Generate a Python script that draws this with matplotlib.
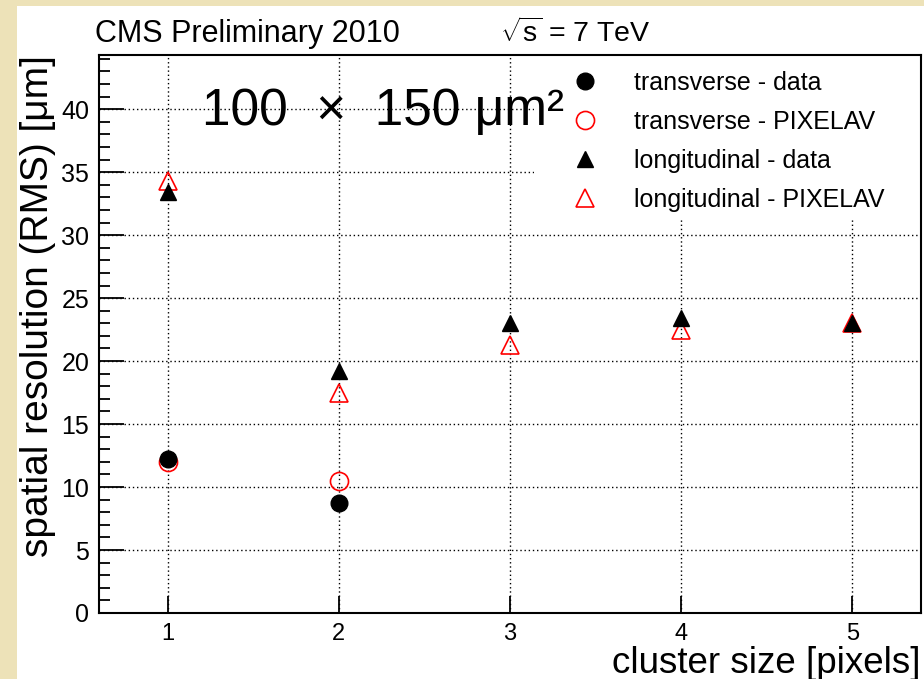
import numpy as np
import matplotlib
matplotlib.use("Agg")
import matplotlib.pyplot as plt
from matplotlib.patches import Rectangle

plt.rcParams['font.family'] = ['Liberation Sans', 'DejaVu Sans']
plt.rcParams['mathtext.fontset'] = 'custom'
plt.rcParams['mathtext.rm'] = 'Liberation Sans'
plt.rcParams['mathtext.it'] = 'Liberation Sans'

# ==============================
#  Data
# ==============================
cluster_size = [1, 2, 3, 4, 5]
trans_x = [1, 2]
trans_data = [12.2, 8.7]
trans_pixelav = [12.0, 10.5]
long_data = [33.4, 19.2, 23.0, 23.4, 23.0]
long_pixelav = [34.3, 17.5, 21.3, 22.5, 23.0]

# ==============================
#  Figure
# ==============================
fig = plt.figure(figsize=(9.24, 6.79), dpi=100, facecolor='#ede2b8')
fig.patches.append(Rectangle((17 / 924, 0), 1, (679 - 6) / 679, transform=fig.transFigure,
                             facecolor='white', edgecolor='none', zorder=0))

ax = fig.add_axes([99 / 924, 66 / 679, 822 / 924, 558 / 679])
ax.set_zorder(1)
ax.set_xlim(0.6, 5.4)
ax.set_ylim(0, 44.3)

ax.grid(True, color='black', linestyle=(0, (1, 2)), linewidth=1)
ax.set_xticks(cluster_size)
ax.set_yticks(np.arange(0, 45, 5))
ax.set_yticks(np.arange(0, 45, 1), minor=True)
ax.tick_params(axis='y', which='major', direction='in', length=18, width=1.3, labelsize=18, pad=7)
ax.tick_params(axis='y', which='minor', direction='in', length=8, width=1.3)
ax.tick_params(axis='x', which='major', direction='in', length=12, width=1.3, labelsize=17, pad=7)
for sp in ax.spines.values():
    sp.set_linewidth(1.5)

# white box behind the legend (hides the grid, like the original)
ax.add_patch(Rectangle((0.529, 0.708), 0.471, 0.292, transform=ax.transAxes,
                       facecolor='white', edgecolor='none', zorder=2))

ax.plot(cluster_size, long_pixelav, linestyle='none', marker='^', markersize=13,
        markerfacecolor='none', markeredgecolor='red', markeredgewidth=1.2, zorder=3,
        label='longitudinal - PIXELAV')
ax.plot(trans_x, trans_pixelav, linestyle='none', marker='o', markersize=13,
        markerfacecolor='none', markeredgecolor='red', markeredgewidth=1.2, zorder=3,
        label='transverse - PIXELAV')
ax.plot(cluster_size, long_data, linestyle='none', marker='^', markersize=12,
        color='black', zorder=4, label='longitudinal - data')
ax.plot(trans_x, trans_data, linestyle='none', marker='o', markersize=12,
        color='black', zorder=4, label='transverse - data')

h, l = ax.get_legend_handles_labels()
order = [3, 1, 2, 0]
ax.legend([h[i] for i in order], [l[i] for i in order], loc='upper left',
          bbox_to_anchor=(0.576, 0.972), frameon=False, fontsize=18,
          borderpad=0, borderaxespad=0, handlelength=1, handletextpad=1.46,
          labelspacing=0.6, numpoints=1)

ax.set_xlabel('cluster size [pixels]', fontsize=26.5, loc='right')
ax.xaxis.set_label_coords(1.0, -0.0585)
ax.set_ylabel('spatial resolution (RMS) [μm]', fontsize=28, loc='top')
ax.yaxis.set_label_coords(-0.052, 1.0)

ax.text(0.125, 0.875, '100  ×  150 μm²', transform=ax.transAxes, fontsize=37,
        va='baseline', ha='left')
fig.text(95 / 924, (679 - 42) / 679, 'CMS Preliminary 2010', fontsize=22, va='baseline')
fig.text(500 / 924, (679 - 42) / 679, r'$\sqrt{s}$ = 7 TeV', fontsize=20.5, va='baseline')

fig.savefig('out.png', dpi=100, facecolor=fig.get_facecolor())
